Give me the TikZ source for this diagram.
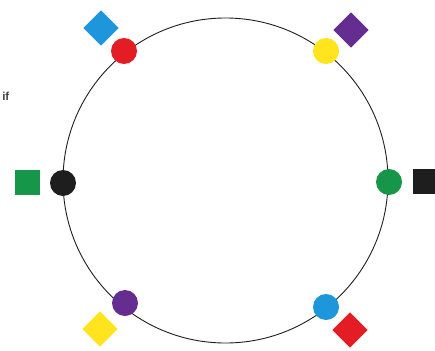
\documentclass[tikz,border=0pt]{standalone}
\usepackage{fontspec}
\setmainfont{Liberation Sans}
\definecolor{cblue}{RGB}{30,150,220}
\definecolor{cred}{RGB}{228,28,36}
\definecolor{cyellow}{RGB}{255,228,30}
\definecolor{cpurple}{RGB}{102,45,145}
\definecolor{cgreen}{RGB}{22,150,72}
\definecolor{cblack}{RGB}{30,30,30}
\begin{document}
\begin{tikzpicture}[x=1pt,y=-1pt,
  dot/.style={circle,inner sep=0pt,minimum size=26pt},
  sq/.style={rectangle,inner sep=0pt,minimum size=25pt},
  dia/.style={rectangle,inner sep=0pt,minimum size=25pt,rotate=45}]
\useasboundingbox (0,0) rectangle (435,350);
\fill[white] (0,0) rectangle (435,350);
\node[circle,draw=cblack,line width=0.9pt,inner sep=0pt,minimum size=325pt] (ring) at (225.5,180.5) {};
\node[dot,fill=cred] (d1) at (124,51) {};
\node[dot,fill=cyellow] (d2) at (326,51) {};
\node[dot,fill=cblack] (d3) at (63,183) {};
\node[dot,fill=cgreen] (d4) at (389,182) {};
\node[dot,fill=cpurple] (d5) at (125,303) {};
\node[dot,fill=cblue] (d6) at (326,307) {};
\node[dia,fill=cblue] (s1) at (101,28) {};
\node[dia,fill=cpurple] (s2) at (351,30) {};
\node[sq,fill=cgreen] (s3) at (27.5,182) {};
\node[sq,fill=cblack] (s4) at (425,181) {};
\node[dia,fill=cyellow] (s5) at (100,329) {};
\node[dia,fill=cred] (s6) at (350,330) {};
\node[anchor=base east,inner sep=0pt,font=\fontsize{11.5}{13}\selectfont\bfseries,text=cblack!85] (t) at (9.5,100.5) {if};
\end{tikzpicture}
\end{document}
